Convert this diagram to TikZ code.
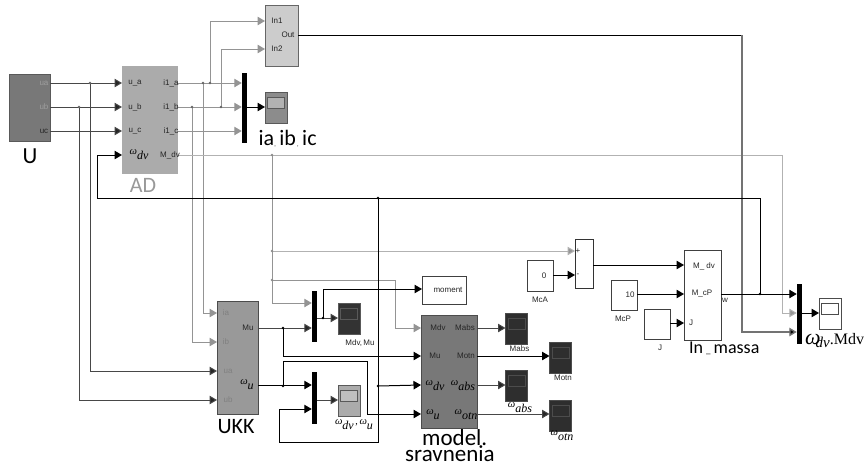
\documentclass[tikz,border=0pt]{standalone}
\usepackage{fontspec}
\setmainfont{Liberation Sans}
\newfontfamily\bigf{Carlito}
\newfontfamily\timesf{Liberation Serif}
\usetikzlibrary{arrows.meta,calc}
\newcommand{\om}[1]{{\timesf\itshape\fontsize{10.5}{11}\selectfont ω\raisebox{-5pt}{\fontsize{12}{12}\selectfont #1}}}
\newcommand{\scopeblk}[6]{%
  \node[scopebox,fill=#4,draw=#6] (#1) at (#2,#3) {};
  \node[screenbox,fill=#5,draw=#6] (#1s) at ([yshift=5pt]#1.center) {};}
\tikzset{
  x=1pt,y=-1pt,
  blk/.style={draw=#1,line width=1pt,inner sep=0pt,outer sep=0pt},
  blk/.default={black!70},
  scopebox/.style={line width=1pt,inner sep=0pt,outer sep=0pt,minimum width=22pt,minimum height=31pt},
  screenbox/.style={line width=0.8pt,inner sep=0pt,outer sep=0pt,minimum width=17pt,minimum height=11pt},
  muxbar/.style={fill=black,draw=none,inner sep=0pt,outer sep=0pt,minimum width=5.5pt},
  wd/.style={line width=1pt,draw=black!72,-{Triangle[length=7.5pt,width=8.5pt,fill=black!85]}},
  wk/.style={line width=1pt,draw=black,-{Triangle[length=7.5pt,width=8.5pt,fill=black]}},
  wg/.style={line width=1pt,draw=black!42,-{Triangle[length=7.5pt,width=8.5pt,fill=black!42]}},
  wl/.style={line width=1pt,draw=black!30,-{Triangle[length=7.5pt,width=8.5pt,fill=black!42]}},
  jd/.style={circle,fill=#1,inner sep=0pt,minimum size=2.6pt},
  jd/.default=black!70,
  tiny/.style={font=\fontsize{8}{9}\selectfont,text=#1,inner sep=0pt},
  tiny/.default=black!85,
  lab/.style={font=\bigf\fontsize{#1}{#1}\selectfont,inner sep=0pt,anchor=base},
}
\begin{document}
\begin{tikzpicture}
\useasboundingbox (0,0) rectangle (868,464);
% row coordinates
\coordinate (r21) at (0,21); \coordinate (r35) at (0,35); \coordinate (r49) at (0,49);
\coordinate (r83) at (0,83); \coordinate (r107) at (0,107); \coordinate (r131) at (0,131);
\coordinate (r155) at (0,155); \coordinate (r198) at (0,198);
\coordinate (r251) at (0,251); \coordinate (r265) at (0,265); \coordinate (r275) at (0,275); \coordinate (r280) at (0,280);
\coordinate (r289) at (0,289); \coordinate (r294) at (0,294); \coordinate (r303) at (0,303);
\coordinate (r313) at (0,313); \coordinate (r318) at (0,318); \coordinate (r323) at (0,323);
\coordinate (r328) at (0,328); \coordinate (r332) at (0,332); \coordinate (r342) at (0,342);
\coordinate (r356) at (0,356); \coordinate (r361) at (0,361); \coordinate (r371) at (0,371);
\coordinate (r385) at (0,385); \coordinate (r400) at (0,400); \coordinate (r409) at (0,409);
\coordinate (r414) at (0,414); \coordinate (r442) at (0,442);
% blocks
\node[blk=black!65,fill=black!53,minimum width=41pt,minimum height=67pt] (U) at (29.5,107.5) {};
\node[blk=black!33,fill=black!33,minimum width=55pt,minimum height=107pt] (AD) at (149.5,119.5) {};
\node[blk=black!60,fill=black!20,minimum width=33pt,minimum height=61pt] (IN) at (281.5,35.5) {};
\node[muxbar,minimum height=70pt] (M1) at (244.5,108) {};
\scopeblk{S1}{276}{107.5}{black!45}{black!30}{black!65}
\node[blk=black!70,fill=black!40,minimum width=41pt,minimum height=113pt] (UKK) at (237.5,357.5) {};
\node[muxbar,minimum height=51pt] (M3) at (314.5,316.5) {};
\node[muxbar,minimum height=52pt] (M4) at (314.5,398) {};
\scopeblk{S3}{349}{318.5}{black!80}{black!80}{black!65}
\scopeblk{S4}{349}{400.5}{black!33}{black!25}{black!65}
\node[blk=black!75,fill=white,minimum width=44pt,minimum height=28pt] (MOM) at (444,290) {};
\node[blk=black!70,fill=black!53,minimum width=56pt,minimum height=113pt] (MOD) at (449,371.5) {};
\scopeblk{S5}{516.5}{328.5}{black!82}{black!82}{black!70}
\scopeblk{S6}{560.5}{357.5}{black!82}{black!82}{black!70}
\scopeblk{S7}{516.5}{386}{black!82}{black!82}{black!70}
\scopeblk{S8}{560.5}{415.5}{black!82}{black!82}{black!70}
\node[blk=black!75,fill=white,minimum width=26pt,minimum height=31pt] (McA) at (540,275.5) {};
\node[blk=black!80,fill=white,minimum width=18pt,minimum height=49pt] (SUM) at (584,263.5) {};
\node[blk=black!75,fill=white,minimum width=26pt,minimum height=30pt] (McP) at (624,295) {};
\node[blk=black!75,fill=white,minimum width=26pt,minimum height=30pt] (J) at (657,324) {};
\node[blk=black!75,fill=white,minimum width=37pt,minimum height=90pt] (LM) at (702.5,295) {};
\node[muxbar,minimum height=60pt] (M2) at (799.5,314) {};
\scopeblk{S2}{830}{314}{white}{white}{black!70}
% junctions
\coordinate (ju1) at (90,83); \coordinate (ju2) at (79,107);
\coordinate (ja1) at (203,83); \coordinate (ja2) at (210,83);
\coordinate (jb1) at (192,107); \coordinate (jb2) at (221,107);
\coordinate (jm) at (272,155); \coordinate (jg1) at (272,251); \coordinate (jg2) at (272,280);
\coordinate (jw) at (760,294); \coordinate (jk) at (378,198); \coordinate (jk2) at (378,386);
\coordinate (jmu) at (283,328); \coordinate (jwu) at (283,386); \coordinate (jo) at (323,318);
% U -> AD, UKK
\draw[wd] (U.east |- r83) -- (AD.west |- r83);
\draw[wd] (U.east |- r107) -- (AD.west |- r107);
\draw[wd] (U.east |- r131) -- (AD.west |- r131);
\draw[wd] (ju1) |- (UKK.west |- r371);
\draw[wd] (ju2) |- (UKK.west |- r400);
% AD -> mux 1, In, UKK
\draw[wg] (AD.east |- r83) -- (M1.west |- r83);
\draw[wg] (AD.east |- r107) -- (M1.west |- r107);
\draw[wg] (AD.east |- r131) -- (M1.west |- r131);
\draw[wg] (ja2) |- (IN.west |- r21);
\draw[wg] (jb2) |- (IN.west |- r49);
\draw[wg] (ja1) |- (UKK.west |- r313);
\draw[wg] (jb1) |- (UKK.west |- r342);
\draw[wk] (M1.east |- r107) -- (S1.west |- r107);
% M_dv
\draw[wl] (AD.east |- r155) -| (782,313) -- (M2.west |- r313);
\draw[wg] (jm) |- (M3.west |- r303);
\draw[wl] (jg1) -- (SUM.west |- r251);
\draw[wg] (jg2) -| (395,328) -- (MOD.west |- r328);
% In out
\draw[line width=1pt,black] (IN.east |- r35) -- (742,35);
\draw[line width=1.4pt,draw=black!55,-{Triangle[length=7.5pt,width=8.5pt,fill=black]}] (742,35) |- (M2.west |- r332);
% speed feedback
\draw[wk] (LM.east |- r294) -- (M2.west |- r294);
\draw[wk] (jw) |- (97,198) |- (AD.west |- r155);
\draw[wk] (jk) -- (378,442) -| (279,409) -- (M4.west |- r409);
\draw[wk] (jk2) -- (MOD.west |- r385);
% UKK outs
\draw[wd] (UKK.east |- r328) -- (M3.west |- r328);
\draw[wk] (jmu) |- (MOD.west |- r356);
\draw[wk] (UKK.east |- r385) -- (M4.west |- r385);
\draw[wk] (jwu) |- (367,361) |- (MOD.west |- r414);
\draw[wd] (M3.east |- r318) -- (S3.west |- r318);
\draw[wk] (jo) |- (MOM.west |- r289);
\draw[wd] (M4.east |- r400) -- (S4.west |- r400);
% model outs
\draw[wd] (MOD.east |- r328) -- (S5.west |- r328);
\draw[wk] (MOD.east |- r356) -- (S6.west |- r356);
\draw[wd] (MOD.east |- r385) -- (S7.west |- r385);
\draw[wd] (MOD.east |- r414) -- (S8.west |- r414);
% right side
\draw[wk] (McA.east |- r275) -- (SUM.west |- r275);
\draw[wk] (SUM.east |- r265) -- (LM.west |- r265);
\draw[wk] (McP.east |- r294) -- (LM.west |- r294);
\draw[wk] (J.east |- r323) -- (LM.west |- r323);
\draw[wk] (M2.east |- r313) -- (S2.west |- r313);
% dots
\foreach \p in {ju1,ju2,ja1,ja2,jb1,jb2} \node[jd=black!60] at (\p) {};
\foreach \p in {jm,jg1,jg2} \node[jd=black!45] at (\p) {};
\foreach \p in {jw,jk,jk2,jmu,jwu,jo} \node[jd=black] at (\p) {};
% port labels
\node[tiny=black!38] at (44,83) {ua};
\node[tiny=black!38] at (44,107) {ub};
\node[tiny=black!85] at (44,131) {uc};
\node[tiny] at (135,83) {u\_a};
\node[tiny] at (135,107) {u\_b};
\node[tiny] at (135,131) {u\_c};
\node at (139,155) {\om{dv}};
\node[tiny] at (171,83) {i1\_a};
\node[tiny] at (171,107) {i1\_b};
\node[tiny] at (171,131) {i1\_c};
\node[tiny] at (170,155) {M\_dv};
\node[tiny] at (277,21) {In1};
\node[tiny] at (288,35) {Out};
\node[tiny] at (277,49) {In2};
\node[tiny=black!50] at (226,313) {ia};
\node[tiny=black!50] at (226,342) {ib};
\node[tiny=black!50] at (228,371) {ua};
\node[tiny=black!50] at (228,400) {ub};
\node[tiny] at (248,328) {Mu};
\node at (247,385) {\om{u}};
\node[tiny] at (438,328) {Mdv};
\node[tiny] at (465,328) {Mabs};
\node[tiny] at (435,356) {Mu};
\node[tiny] at (466,356) {Motn};
\node at (435,386) {\om{dv}};
\node at (463,386) {\om{abs}};
\node at (433,415) {\om{u}};
\node at (466,415) {\om{otn}};
\node[tiny] at (448,290) {moment};
\node[tiny] at (544,276) {0};
\node[tiny] at (540,300) {McA};
\node[tiny] at (578,251) {+};
\node[tiny] at (578,275) {-};
\node[tiny] at (630,295) {10};
\node[tiny] at (623,319) {McP};
\node[tiny] at (660,348) {J};
\node[tiny] at (704,266) {M\_ dv};
\node[tiny] at (702,294) {M\_cP};
\node[tiny] at (691,323) {J};
\node[tiny] at (725,300) {w};
\node[tiny] at (519.5,349) {Mabs};
\node[tiny] at (563,378) {Motn};
\node[tiny] at (360,343) {Mdv,\,Mu};
\node at (354,425) {\om{dv}\,{\timesf ,}\,\om{u}};
\node at (520,408) {\om{abs}};
\node at (562,436) {\om{otn}};
% big labels
\node[lab=23] at (30,163) {U};
\node[lab=22,text=black!40] at (143,192) {AD};
\node[lab=22,anchor=base west] at (258.5,145) {ia\raisebox{-1pt}{\fontsize{6}{6}\selectfont ,}\,ib\raisebox{-1pt}{\fontsize{6}{6}\selectfont\,,}\,ic};
\node[lab=22] at (236,433) {UKK};
\node[lab=23,anchor=base west] at (422,445) {model.};
\node[lab=23,anchor=base west] at (405,461) {sravnenia};
\node[lab=18,anchor=base west] at (689,353) {In\,{\fontsize{9}{9}\selectfont\_}\,massa};
\node[inner sep=0pt,anchor=base west] at (805,344) {\timesf{\itshape\fontsize{22}{22}\selectfont ω\kern-5pt\raisebox{-3pt}{\fontsize{15}{15}\selectfont dv}}\fontsize{16}{16}\selectfont.Mdv};
\end{tikzpicture}
\end{document}
